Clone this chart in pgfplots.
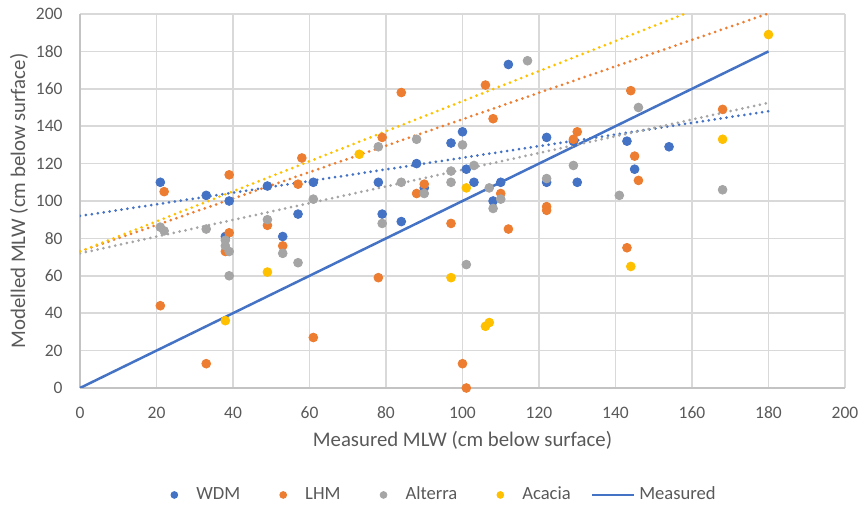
\documentclass[border=0pt]{standalone}
\usepackage{pgfplots}
\pgfplotsset{compat=1.18}
\usepackage{fontspec}
\setmainfont{Carlito}
\definecolor{cWDM}{HTML}{4472C4}
\definecolor{cLHM}{HTML}{ED7D31}
\definecolor{cALT}{HTML}{A5A5A5}
\definecolor{cACA}{HTML}{FFC000}
\definecolor{txt}{HTML}{595959}
\definecolor{gridc}{HTML}{D9D9D9}
\pgfplotsset{
  mklegend/.style={legend image code/.code={\path[draw=none, fill=none] (-11.5pt,0pt) (9pt,0pt); \draw[mark size=1.7pt] plot coordinates {(0pt,0pt)};}},
  trend/.style={forget plot, line width=1.5pt, line cap=round, dash pattern=on 0pt off 3pt, no marks},
}
\begin{document}
\begin{tikzpicture}
\begin{axis}[
  scale only axis, width=382.5pt, height=187pt,
  at={(0,0)}, anchor=south west,
  xmin=0, xmax=200, ymin=0, ymax=200,
  xtick={0,20,...,200}, ytick={0,20,...,200},
  grid=major, major grid style={gridc, line width=0.75pt},
  axis line style={draw=gridc!90!black, line width=0.75pt},
  axis lines*=left,
  major tick length=0pt,
  tick label style={font=\fontsize{8.75}{10}\selectfont, text=txt},
  /pgf/number format/assume math mode=true,
  xticklabel style={anchor=center, inner sep=0pt, yshift=-12.25pt},
  yticklabel style={anchor=east, inner sep=0pt, xshift=-8.5pt},
  xlabel={Measured MLW (cm below surface)},
  ylabel={Modelled MLW (cm below surface)},
  label style={font=\fontsize{10.4}{12}\selectfont, text=txt},
  xlabel style={at={(axis description cs:0.5,-0.139)}, anchor=center},
  ylabel style={at={(axis description cs:-0.0797,0.5)}, anchor=center},
  legend style={at={(0.4647,-0.286)}, anchor=center, draw=none, fill=none,
    font=\fontsize{9.3}{11}\selectfont, text=txt,
    /tikz/every even column/.append style={column sep=8pt}},
  legend columns=-1,
  clip=true,
]
% WDM
\addplot[only marks, mark=*, mark size=2.2pt, color=cWDM, mark options={draw=cWDM, fill=cWDM}, mklegend] coordinates {
(21,110)(33,103)(38,81)(39,100)(49,108)(53,81)(57,93)(61,110)(78,110)(79,93)(84,89)(88,120)(90,107)(97,131)(100,137)(101,117)(103,110)(108,100)(110,110)(112,173)(122,134)(122,110)(129,132)(130,110)(143,132)(145,117)(154,129)
};
\addlegendentry{WDM}
% LHM
\addplot[only marks, mark=*, mark size=2.2pt, color=cLHM, mark options={draw=cLHM, fill=cLHM}, mklegend] coordinates {
(21,44)(22,105)(33,13)(38,73)(39,114)(39,83)(49,87)(53,76)(57,109)(58,123)(61,27)(78,59)(79,134)(84,158)(88,104)(90,109)(97,88)(100,13)(101,0)(106,162)(108,144)(110,104)(112,85)(122,97)(122,95)(129,133)(130,137)(143,75)(144,159)(145,124)(146,111)(168,149)
};
\addlegendentry{LHM}
% Alterra
\addplot[only marks, mark=*, mark size=2.2pt, color=cALT, mark options={draw=cALT, fill=cALT}, mklegend] coordinates {
(21,86)(22,84)(33,85)(38,79)(38,76)(39,73)(39,60)(49,90)(53,72)(57,67)(61,101)(78,129)(79,88)(84,110)(88,133)(90,104)(97,116)(97,110)(100,130)(101,66)(103,119)(107,107)(108,96)(110,101)(117,175)(122,112)(129,119)(141,103)(146,150)(168,106)
};
\addlegendentry{Alterra}
% Acacia
\addplot[only marks, mark=*, mark size=2.2pt, color=cACA, mark options={draw=cACA, fill=cACA}, mklegend] coordinates {
(38,36)(49,62)(73,125)(97,59)(101,107)(106,33)(107,35)(144,65)(168,133)(180,189)
};
\addlegendentry{Acacia}
% Measured 1:1 line
\addplot[cWDM, line width=1.25pt, no marks, legend image code/.code={\draw[cWDM, line width=1.25pt] (0pt,0pt) -- (21pt,0pt);}] coordinates {(0,0)(180,180)};
\addlegendentry{Measured}
% trendlines
\addplot[trend, cWDM] coordinates {(0,92)(180,148)};
\addplot[trend, cLHM] coordinates {(0,73)(180,200.3)};
\addplot[trend, cALT] coordinates {(0,72)(180,152.5)};
\addplot[trend, cACA] coordinates {(0,73)(158,200)};
\end{axis}
\pgfresetboundingbox
\useasboundingbox (-40pt,-62.5pt) rectangle (392pt,194pt);
\end{tikzpicture}
\end{document}
